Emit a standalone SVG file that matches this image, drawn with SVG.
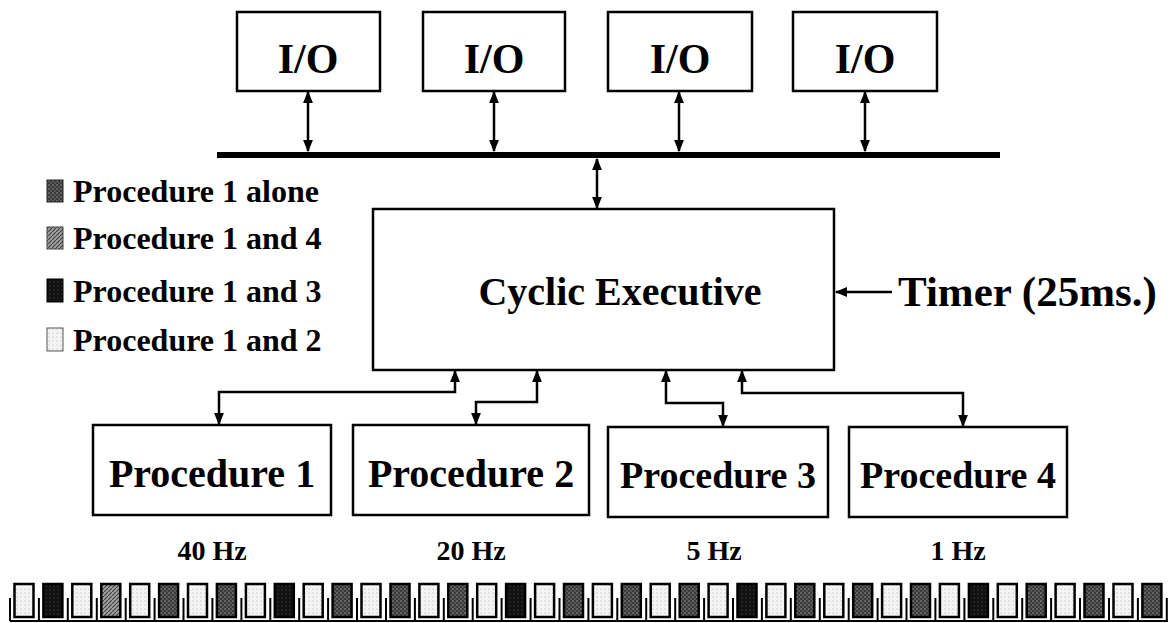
<svg xmlns="http://www.w3.org/2000/svg" width="1170" height="623" viewBox="0 0 1170 623">
  <defs>
    <style>
      .box { fill: #fff; stroke: #000; stroke-width: 2.5; }
      .lbl { font-family: "Liberation Serif", "Times New Roman", serif; font-weight: bold; fill: #000; }
      .wire { fill: none; stroke: #000; stroke-width: 2.5; }
      .slot { stroke: #000; stroke-width: 2.5; }
      .tick { stroke: #000; stroke-width: 2; }
    </style>
    <marker id="head" viewBox="0 0 10 8" refX="9" refY="4" markerWidth="5" markerHeight="4" orient="auto-start-reverse" markerUnits="strokeWidth">
      <path d="M0,0 L10,4 L0,8 z" fill="#000"/>
    </marker>
    <!-- slot fills -->
    <pattern id="fill-alone" width="4" height="4" patternUnits="userSpaceOnUse">
      <rect width="4" height="4" fill="#3a3a3a"/>
      <circle cx="1" cy="1" r="0.8" fill="#9a9a9a"/>
      <circle cx="3" cy="3" r="0.8" fill="#7a7a7a"/>
    </pattern>
    <pattern id="fill-four" width="4" height="4" patternUnits="userSpaceOnUse">
      <rect width="4" height="4" fill="#a0a0a0"/>
      <path d="M0,4 L4,0" stroke="#444" stroke-width="1.2"/>
    </pattern>
    <pattern id="fill-three" width="4" height="4" patternUnits="userSpaceOnUse">
      <rect width="4" height="4" fill="#111"/>
      <circle cx="2" cy="2" r="0.6" fill="#555"/>
    </pattern>
    <pattern id="fill-two" width="4" height="4" patternUnits="userSpaceOnUse">
      <rect width="4" height="4" fill="#f4f4f4"/>
      <circle cx="1" cy="1" r="0.6" fill="#aaa"/>
    </pattern>
  </defs>

  <rect width="1170" height="623" fill="#fff"/>

  <!-- I/O devices -->
  <g id="io1"><rect class="box" x="237" y="12" width="143" height="79"/><text class="lbl" x="308" y="73" font-size="42" text-anchor="middle">I/O</text></g>
  <g id="io2"><rect class="box" x="423" y="12" width="142" height="79"/><text class="lbl" x="494" y="73" font-size="42" text-anchor="middle">I/O</text></g>
  <g id="io3"><rect class="box" x="608" y="12" width="144" height="79"/><text class="lbl" x="680" y="73" font-size="42" text-anchor="middle">I/O</text></g>
  <g id="io4"><rect class="box" x="793" y="12" width="144" height="79"/><text class="lbl" x="865" y="73" font-size="42" text-anchor="middle">I/O</text></g>

  <!-- system bus -->
  <g id="bus"><rect x="217" y="152" width="783" height="6" fill="#000"/></g>

  <!-- executive -->
  <g id="executive">
    <rect class="box" x="373" y="209" width="461" height="161"/>
    <text class="lbl" x="620" y="305" font-size="40" text-anchor="middle">Cyclic Executive</text>
  </g>

  <!-- timer input -->
  <g id="timer">
    <text class="lbl" x="898" y="306" font-size="43">Timer (25ms.)</text>
  </g>

  <!-- procedures -->
  <g id="proc1"><rect class="box" x="93" y="425" width="238" height="90"/><text class="lbl" x="212" y="487" font-size="40" text-anchor="middle">Procedure 1</text><text class="lbl" x="212" y="560" font-size="28" text-anchor="middle">40 Hz</text></g>
  <g id="proc2"><rect class="box" x="353" y="425" width="236" height="90"/><text class="lbl" x="471" y="487" font-size="40" text-anchor="middle">Procedure 2</text><text class="lbl" x="471" y="560" font-size="28" text-anchor="middle">20 Hz</text></g>
  <g id="proc3"><rect class="box" x="608" y="427" width="220" height="90"/><text class="lbl" x="718" y="488" font-size="38" text-anchor="middle">Procedure 3</text><text class="lbl" x="714" y="560" font-size="28" text-anchor="middle">5 Hz</text></g>
  <g id="proc4"><rect class="box" x="849" y="427" width="218" height="90"/><text class="lbl" x="958" y="488" font-size="38" text-anchor="middle">Procedure 4</text><text class="lbl" x="958" y="560" font-size="28" text-anchor="middle">1 Hz</text></g>

  <!-- legend -->
  <g id="legend">
    <rect x="47" y="180" width="16" height="22" fill="url(#fill-alone)" stroke="#222" stroke-width="1"/>
    <text class="lbl" x="73" y="202" font-size="32">Procedure 1 alone</text>
    <rect x="47" y="227" width="16" height="22" fill="url(#fill-four)" stroke="#444" stroke-width="1"/>
    <text class="lbl" x="73" y="249" font-size="32">Procedure 1 and 4</text>
    <rect x="47" y="279" width="16" height="23" fill="url(#fill-three)" stroke="#000" stroke-width="1"/>
    <text class="lbl" x="73" y="302" font-size="32">Procedure 1 and 3</text>
    <rect x="47" y="328" width="16" height="23" fill="url(#fill-two)" stroke="#555" stroke-width="1"/>
    <text class="lbl" x="73" y="351" font-size="32">Procedure 1 and 2</text>
  </g>

  <!-- connectors -->
  <g id="connectors">
    <path class="wire" d="M308,92 V151" marker-start="url(#head)" marker-end="url(#head)"/>
    <path class="wire" d="M494,92 V151" marker-start="url(#head)" marker-end="url(#head)"/>
    <path class="wire" d="M679,92 V151" marker-start="url(#head)" marker-end="url(#head)"/>
    <path class="wire" d="M865,92 V151" marker-start="url(#head)" marker-end="url(#head)"/>
    <path class="wire" d="M597,159 V208" marker-start="url(#head)" marker-end="url(#head)"/>
    <path class="wire" d="M892,292 H836" marker-end="url(#head)"/>
    <path class="wire" d="M455,371 V392 H219 V424" marker-start="url(#head)" marker-end="url(#head)"/>
    <path class="wire" d="M537,371 V402 H476 V424" marker-start="url(#head)" marker-end="url(#head)"/>
    <path class="wire" d="M666,371 V403 H723 V426" marker-start="url(#head)" marker-end="url(#head)"/>
    <path class="wire" d="M742,371 V393 H963 V426" marker-start="url(#head)" marker-end="url(#head)"/>
  </g>

  <!-- 25 ms schedule timeline -->
  <g id="timeline">
    <line class="tick" x1="10" y1="621" x2="1168" y2="621"/>
    <path class="tick" fill="none" d="M10,598V621 M38.9,598V621 M67.8,598V621 M96.8,598V621 M125.7,598V621 M154.6,598V621 M183.5,598V621 M212.4,598V621 M241.4,598V621 M270.3,598V621 M299.2,598V621 M328.1,598V621 M357,598V621 M386,598V621 M414.9,598V621 M443.8,598V621 M472.7,598V621 M501.6,598V621 M530.6,598V621 M559.5,598V621 M588.4,598V621 M617.3,598V621 M646.2,598V621 M675.2,598V621 M704.1,598V621 M733,598V621 M761.9,598V621 M790.8,598V621 M819.8,598V621 M848.7,598V621 M877.6,598V621 M906.5,598V621 M935.4,598V621 M964.4,598V621 M993.3,598V621 M1022.2,598V621 M1051.1,598V621 M1080,598V621 M1109,598V621 M1137.9,598V621 M1166.8,598V621"/>
    <rect class="slot" x="14.5" y="584" width="19" height="33" fill="url(#fill-two)"/>
    <rect class="slot" x="43.4" y="584" width="19" height="33" fill="url(#fill-three)"/>
    <rect class="slot" x="72.3" y="584" width="19" height="33" fill="url(#fill-two)"/>
    <rect class="slot" x="101.3" y="584" width="19" height="33" fill="url(#fill-four)"/>
    <rect class="slot" x="130.2" y="584" width="19" height="33" fill="url(#fill-two)"/>
    <rect class="slot" x="159.1" y="584" width="19" height="33" fill="url(#fill-alone)"/>
    <rect class="slot" x="188" y="584" width="19" height="33" fill="url(#fill-two)"/>
    <rect class="slot" x="216.9" y="584" width="19" height="33" fill="url(#fill-alone)"/>
    <rect class="slot" x="245.9" y="584" width="19" height="33" fill="url(#fill-two)"/>
    <rect class="slot" x="274.8" y="584" width="19" height="33" fill="url(#fill-three)"/>
    <rect class="slot" x="303.7" y="584" width="19" height="33" fill="url(#fill-two)"/>
    <rect class="slot" x="332.6" y="584" width="19" height="33" fill="url(#fill-alone)"/>
    <rect class="slot" x="361.5" y="584" width="19" height="33" fill="url(#fill-two)"/>
    <rect class="slot" x="390.5" y="584" width="19" height="33" fill="url(#fill-alone)"/>
    <rect class="slot" x="419.4" y="584" width="19" height="33" fill="url(#fill-two)"/>
    <rect class="slot" x="448.3" y="584" width="19" height="33" fill="url(#fill-alone)"/>
    <rect class="slot" x="477.2" y="584" width="19" height="33" fill="url(#fill-two)"/>
    <rect class="slot" x="506.1" y="584" width="19" height="33" fill="url(#fill-three)"/>
    <rect class="slot" x="535.1" y="584" width="19" height="33" fill="url(#fill-two)"/>
    <rect class="slot" x="564" y="584" width="19" height="33" fill="url(#fill-alone)"/>
    <rect class="slot" x="592.9" y="584" width="19" height="33" fill="url(#fill-two)"/>
    <rect class="slot" x="621.8" y="584" width="19" height="33" fill="url(#fill-alone)"/>
    <rect class="slot" x="650.7" y="584" width="19" height="33" fill="url(#fill-two)"/>
    <rect class="slot" x="679.7" y="584" width="19" height="33" fill="url(#fill-alone)"/>
    <rect class="slot" x="708.6" y="584" width="19" height="33" fill="url(#fill-two)"/>
    <rect class="slot" x="737.5" y="584" width="19" height="33" fill="url(#fill-three)"/>
    <rect class="slot" x="766.4" y="584" width="19" height="33" fill="url(#fill-two)"/>
    <rect class="slot" x="795.3" y="584" width="19" height="33" fill="url(#fill-alone)"/>
    <rect class="slot" x="824.3" y="584" width="19" height="33" fill="url(#fill-two)"/>
    <rect class="slot" x="853.2" y="584" width="19" height="33" fill="url(#fill-alone)"/>
    <rect class="slot" x="882.1" y="584" width="19" height="33" fill="url(#fill-two)"/>
    <rect class="slot" x="911" y="584" width="19" height="33" fill="url(#fill-alone)"/>
    <rect class="slot" x="939.9" y="584" width="19" height="33" fill="url(#fill-two)"/>
    <rect class="slot" x="968.9" y="584" width="19" height="33" fill="url(#fill-three)"/>
    <rect class="slot" x="997.8" y="584" width="19" height="33" fill="url(#fill-two)"/>
    <rect class="slot" x="1026.7" y="584" width="19" height="33" fill="url(#fill-alone)"/>
    <rect class="slot" x="1055.6" y="584" width="19" height="33" fill="url(#fill-two)"/>
    <rect class="slot" x="1084.5" y="584" width="19" height="33" fill="url(#fill-alone)"/>
    <rect class="slot" x="1113.5" y="584" width="19" height="33" fill="url(#fill-two)"/>
    <rect class="slot" x="1142.4" y="584" width="19" height="33" fill="url(#fill-alone)"/>
  </g>
</svg>
